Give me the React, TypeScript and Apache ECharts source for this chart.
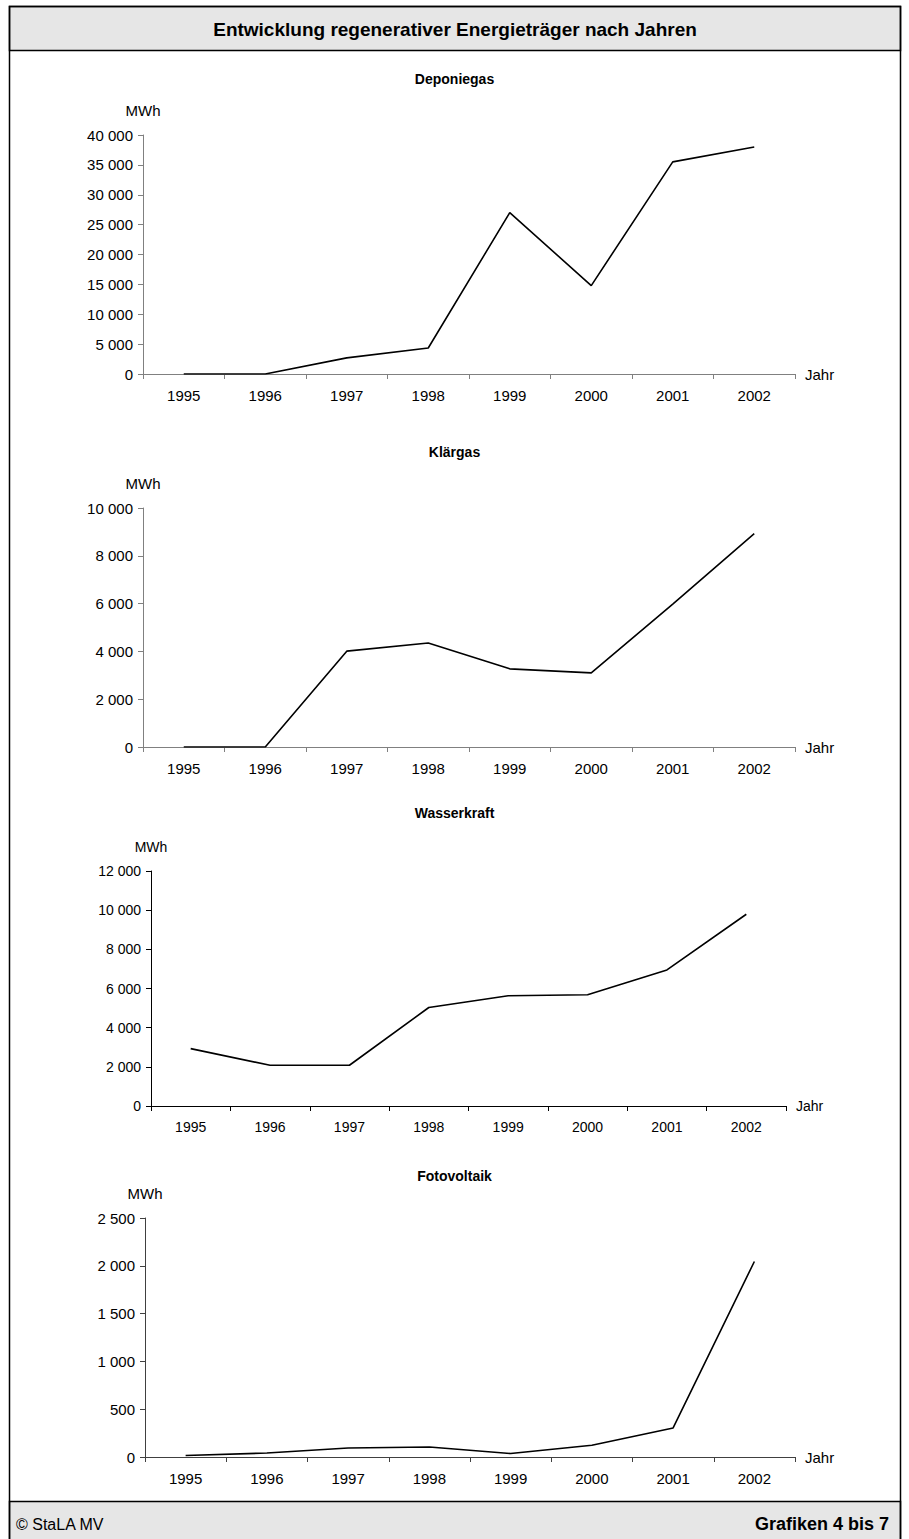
import React, { useEffect, useRef } from "react";
import * as echarts from "echarts";

const years = ["1995", "1996", "1997", "1998", "1999", "2000", "2001", "2002"];

const deponiegas = [0, 0, 2700, 4350, 27000, 14800, 35500, 38000];
const klaergas = [0, 0, 4010, 4350, 3270, 3100, 5980, 8930];
const wasserkraft = [2930, 2080, 2080, 5030, 5630, 5680, 6950, 9790];
const fotovoltaik = [15, 42, 94, 105, 36, 123, 304, 2045];

const chartTitles = ["Deponiegas", "Klärgas", "Wasserkraft", "Fotovoltaik"];
const yMax = [40000, 10000, 12000, 2500];
const yStep = [5000, 2000, 2000, 500];

const mainTitle = "Entwicklung regenerativer Energieträger nach Jahren";
const sourceText = "© StaLA MV";
const graphText = "Grafiken 4 bis 7";

const FONT = "'Liberation Sans', Arial, sans-serif";

const fmt = (v: number) => String(v).replace(/\B(?=(\d{3})+(?!\d))/g, " ");

export default function App() {
  const ref = useRef<HTMLDivElement>(null);
  useEffect(() => {
    if (!ref.current) return;
    const chart = echarts.init(ref.current, undefined, { renderer: "svg" });
    const seriesData = [deponiegas, klaergas, wasserkraft, fotovoltaik];
    const grids = [
      { left: 143, top: 135, width: 652, height: 239 },
      { left: 143, top: 508, width: 652, height: 239 },
      { left: 151, top: 871, width: 635, height: 235 },
      { left: 145, top: 1218, width: 650, height: 239 },
    ];
    const axisColors = ["#808080", "#808080", "#000000", "#404040"];
    const fs = [15, 15, 14, 15];
    const titleTops = [67, 440, 801, 1164];

    const option: any = {
      animation: false,
      backgroundColor: "#ffffff",
      textStyle: { fontFamily: FONT },
      title: chartTitles.map((t, i) => ({
        text: t,
        left: "center",
        top: titleTops[i],
        textStyle: { fontFamily: FONT, fontSize: 14, fontWeight: "bold", color: "#000" },
      })),
      grid: grids.map((g) => ({ ...g, containLabel: false })),
      xAxis: grids.map((_, i) => ({
        type: "category",
        gridIndex: i,
        data: years,
        boundaryGap: true,
        name: "Jahr",
        nameLocation: "end",
        nameGap: 10,
        nameTextStyle: { fontFamily: FONT, fontSize: fs[i], color: "#000", verticalAlign: "middle" },
        axisLine: { show: true, lineStyle: { color: axisColors[i], width: 1 } },
        axisTick: { show: true, length: 5, lineStyle: { color: axisColors[i] } },
        axisLabel: { margin: 14, fontFamily: FONT, fontSize: fs[i], color: "#000" },
        splitLine: { show: false },
      })),
      yAxis: grids.map((_, i) => ({
        type: "value",
        gridIndex: i,
        min: 0,
        max: yMax[i],
        interval: yStep[i],
        name: "MWh",
        nameLocation: "end",
        nameGap: 17,
        nameTextStyle: { fontFamily: FONT, fontSize: fs[i], color: "#000" },
        axisLine: { show: true, lineStyle: { color: axisColors[i], width: 1 } },
        axisTick: { show: true, length: 5, lineStyle: { color: axisColors[i] } },
        axisLabel: { margin: 10, fontFamily: FONT, fontSize: fs[i], color: "#000", formatter: fmt },
        splitLine: { show: false },
      })),
      series: seriesData.map((d, i) => ({
        type: "line",
        name: chartTitles[i],
        xAxisIndex: i,
        yAxisIndex: i,
        data: d,
        showSymbol: false,
        symbol: "none",
        lineStyle: { color: "#000", width: 1.6 },
      })),
      graphic: [
        {
          type: "rect",
          shape: { x: 9.5, y: 6.5, width: 891, height: 1545 },
          style: { fill: "none", stroke: "#000", lineWidth: 1.5 },
          z: 10,
        },
        {
          type: "rect",
          shape: { x: 9.5, y: 6.5, width: 891, height: 44 },
          style: { fill: "#e6e6e6", stroke: "#000", lineWidth: 1.5 },
          z: 9,
        },
        {
          type: "text",
          x: 455,
          y: 29,
          style: {
            text: mainTitle,
            fontFamily: FONT,
            fontSize: 19,
            fontWeight: "bold",
            fill: "#000",
            textAlign: "center",
            textVerticalAlign: "middle",
          },
          z: 11,
        },
        {
          type: "rect",
          shape: { x: 9.5, y: 1501.5, width: 891, height: 60 },
          style: { fill: "#e6e6e6", stroke: "#000", lineWidth: 1.5 },
          z: 9,
        },
        {
          type: "text",
          x: 16,
          y: 1524,
          style: {
            text: sourceText,
            fontFamily: FONT,
            fontSize: 16,
            fill: "#000",
            textAlign: "left",
            textVerticalAlign: "middle",
          },
          z: 11,
        },
        {
          type: "text",
          x: 889,
          y: 1524,
          style: {
            text: graphText,
            fontFamily: FONT,
            fontSize: 18,
            fontWeight: "bold",
            fill: "#000",
            textAlign: "right",
            textVerticalAlign: "middle",
          },
          z: 11,
        },
      ],
    };
    chart.setOption(option);
    return () => chart.dispose();
  }, []);
  return (
    <div
      ref={ref}
      style={{ position: "absolute", left: 0, top: 0, width: 909, height: 1539 }}
    />
  );
}
